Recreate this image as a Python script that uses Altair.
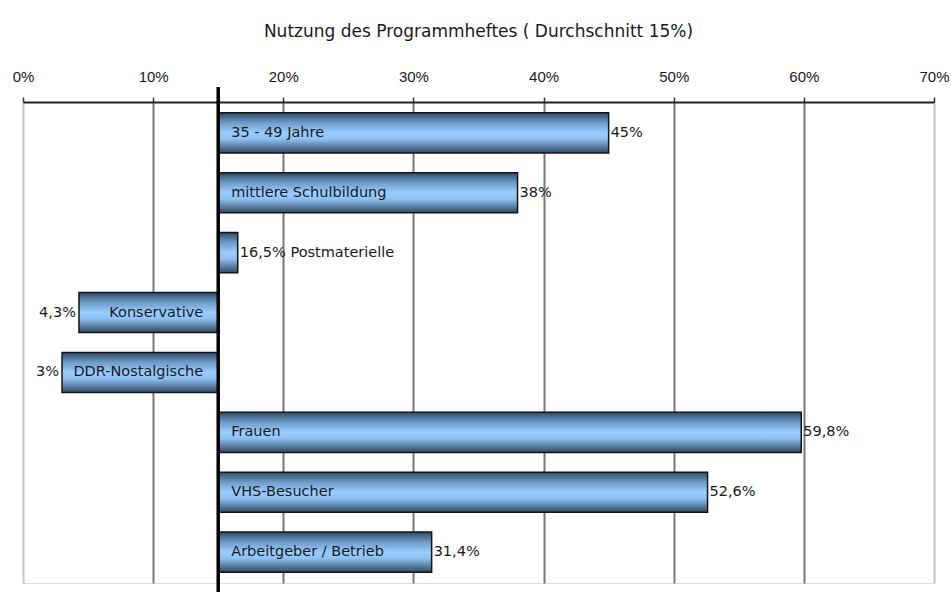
import altair as alt
import pandas as pd

categories = ["35 - 49 Jahre", "mittlere Schulbildung", "Postmaterielle", "Konservative",
              "DDR-Nostalgische", "Frauen", "VHS-Besucher", "Arbeitgeber / Betrieb"]
values = [45, 38, 16.5, 4.3, 3, 59.8, 52.6, 31.4]
baseline = 15
tick_values = [0, 10, 20, 30, 40, 50, 60, 70]
title_text = "Nutzung des Programmheftes ( Durchschnitt 15%)"

def fmt(v):
    s = ("%g" % v).replace(".", ",")
    return s + "%"

rows = []
for c, v in zip(categories, values):
    pct = fmt(v)
    if v >= baseline:
        if v - baseline < 5:
            rows.append(dict(cat=c, val=v, base=baseline, side="pos_small",
                             inlabel="", vlabel=pct + " " + c))
        else:
            rows.append(dict(cat=c, val=v, base=baseline, side="pos",
                             inlabel=c, vlabel=pct))
    else:
        rows.append(dict(cat=c, val=v, base=baseline, side="neg",
                         inlabel=c, vlabel=pct))
df = pd.DataFrame(rows)

FONT = "DejaVu Sans"
AXFONT = "Liberation Sans"
TXT = "#1a1a1a"

xscale = alt.Scale(domain=[0, 70], nice=False, zero=False)
yscale = alt.Scale(domain=categories, paddingInner=0.33, paddingOuter=0.18)

grad = alt.LinearGradient(
    gradient="linear", x1=0, x2=0, y1=0, y2=1,
    stops=[alt.GradientStop(color="#2f4964", offset=0),
           alt.GradientStop(color="#6f9cc8", offset=0.25),
           alt.GradientStop(color="#99ccff", offset=0.5),
           alt.GradientStop(color="#8fc2f2", offset=0.65),
           alt.GradientStop(color="#2f4964", offset=1)])

base = alt.Chart(df)

bars = base.mark_bar(color=grad, stroke="#141414", strokeWidth=1.5).encode(
    x=alt.X("val:Q", scale=xscale, axis=alt.Axis(
        orient="top", values=tick_values, labelExpr="datum.value + '%'",
        title=None, grid=True,
        gridColor=alt.condition("datum.value === 0 || datum.value === 70",
                                alt.value("#c4c4c4"), alt.value("#787878")),
        gridWidth=2, tickSize=5, tickColor="#333", tickWidth=1.5,
        domainColor="#222", domainWidth=2, labelFont=AXFONT, labelFontSize=15,
        labelColor=TXT, labelPadding=13, labelFlush=False)),
    x2="base:Q",
    y=alt.Y("cat:N", scale=yscale, axis=None, sort=categories),
)

in_pos = base.transform_filter("datum.side === 'pos'").mark_text(
    align="left", baseline="middle", dx=13, font=FONT, fontSize=14.5, color=TXT
).encode(x=alt.X("base:Q", scale=xscale), y=alt.Y("cat:N", scale=yscale, sort=categories),
         text="inlabel:N")

in_neg = base.transform_filter("datum.side === 'neg'").mark_text(
    align="right", baseline="middle", dx=-15, font=FONT, fontSize=14.5, color=TXT
).encode(x=alt.X("base:Q", scale=xscale), y=alt.Y("cat:N", scale=yscale, sort=categories),
         text="inlabel:N")

v_pos = base.transform_filter("datum.side !== 'neg'").mark_text(
    align="left", baseline="middle", dx=2, font=FONT, fontSize=14.5, color=TXT
).encode(x=alt.X("val:Q", scale=xscale), y=alt.Y("cat:N", scale=yscale, sort=categories),
         text="vlabel:N")

v_neg = base.transform_filter("datum.side === 'neg'").mark_text(
    align="right", baseline="middle", dx=-3, font=FONT, fontSize=14.5, color=TXT
).encode(x=alt.X("val:Q", scale=xscale), y=alt.Y("cat:N", scale=yscale, sort=categories),
         text="vlabel:N")

rule = alt.Chart(pd.DataFrame({"b": [baseline]})).mark_rule(
    color="#000", strokeWidth=3.5).encode(
    x=alt.X("b:Q", scale=xscale), y=alt.value(-15), y2=alt.value(495))

chart = alt.layer(bars, in_pos, in_neg, v_pos, v_neg, rule).properties(
    width=911, height=481,
    title=alt.TitleParams(title_text, font=FONT, fontSize=17, fontWeight="normal",
                          color=TXT, offset=28, anchor="middle"),
    autosize=alt.AutoSizeParams(type="none"),
    padding={"left": 23, "top": 102, "right": 17, "bottom": 9},
).configure_view(stroke="#c4c4c4", strokeWidth=2).configure(background="white")

chart.save("out.html", embed_options={"renderer": "svg", "actions": False})
